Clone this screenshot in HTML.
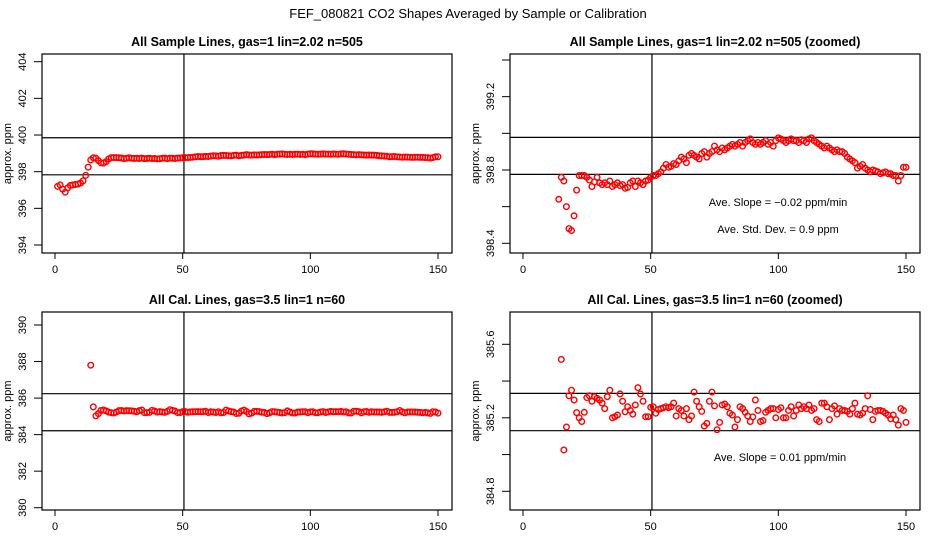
<!DOCTYPE html>
<html><head><meta charset="utf-8">
<style>
html,body{margin:0;padding:0;background:#fff;}
svg{display:block;font-family:"Liberation Sans",sans-serif;}
</style></head>
<body>
<svg id="chart" width="936" height="540" viewBox="0 0 936 540" xmlns="http://www.w3.org/2000/svg">
<text x="468" y="18" text-anchor="middle" font-size="13">FEF_080821  CO2 Shapes Averaged by Sample or Calibration</text>
</svg>
<script>
// x positions 1..150
const sampleValues = [397.20,397.28,397.05,396.88,397.12,397.25,397.28,397.30,397.32,397.38,397.50,397.80,398.25,
398.64,398.76,398.74,398.60,398.48,398.47,398.55,398.69,398.77,398.77,398.77,398.76,398.745,398.71,398.735,398.76,
398.73,398.72,398.73,398.72,398.74,398.71,398.72,398.73,398.715,398.72,398.70,398.705,398.73,398.74,398.71,398.74,398.73,398.72,398.74,398.745,
398.76,398.77,398.77,398.78,398.79,398.81,398.83,398.815,398.82,398.835,398.83,398.85,398.87,398.86,398.84,398.88,398.89,398.88,398.87,398.86,
398.89,398.90,398.87,398.89,398.90,398.93,398.91,398.90,398.92,398.91,398.92,398.93,398.94,398.93,398.94,398.95,398.93,398.95,398.96,398.97,
398.95,398.94,398.95,398.94,398.95,398.96,398.94,398.95,398.93,398.96,398.975,398.97,398.96,398.95,398.96,398.97,398.96,398.96,398.95,398.965,
398.96,398.95,398.97,398.975,398.96,398.95,398.94,398.93,398.92,398.93,398.92,398.91,398.90,398.91,398.90,398.90,398.89,398.87,398.86,398.85,
398.84,398.81,398.82,398.83,398.81,398.80,398.79,398.80,398.795,398.79,398.78,398.785,398.79,398.78,398.78,398.77,398.77,398.74,398.77,398.815,398.815];
const calValues = [null,null,null,null,null,null,null,null,null,null,null,null,null,387.8,
385.518,385.025,385.15,385.32,385.35,385.297,385.228,385.2,385.18,385.23,385.31,385.32,385.29,385.315,385.306,385.297,385.28,385.25,385.315,385.35,385.2,385.206,385.215,385.33,385.29,385.233,385.26,385.24,385.22,385.27,385.364,385.33,385.29,385.206,385.206,385.257,
385.26,385.225,385.245,385.25,385.255,385.26,385.255,385.26,385.28,385.21,385.25,385.24,385.21,385.25,385.19,385.21,385.34,385.29,385.26,385.235,
385.155,385.17,385.29,385.34,385.265,385.135,385.175,385.27,385.275,385.26,385.225,385.215,385.15,385.19,385.26,385.25,385.23,385.21,385.18,385.205,
385.297,385.24,385.18,385.185,385.23,385.24,385.25,385.25,385.2,385.245,385.255,385.2,385.2,385.24,385.26,385.21,385.24,385.27,385.25,385.26,
385.25,385.27,385.24,385.25,385.19,385.18,385.28,385.28,385.26,385.19,385.25,385.265,385.22,385.25,385.24,385.24,385.235,385.22,385.25,385.28,
385.22,385.215,385.225,385.25,385.32,385.245,385.19,385.235,385.24,385.24,385.235,385.225,385.215,385.195,385.215,385.19,385.16,385.25,385.24,385.175];
const xTicks = [0,50,100,150];
const yTicksTL = [394,396,398,400,402,404];
const yTicksTR = [398.4,398.6,398.8,399.0,399.2,399.4];
const yLabelsTR = ["398.4","","398.8","","399.2",""];
const yTicksBL = [380,382,384,386,388,390];
const yTicksBR = [384.8,385.0,385.2,385.4,385.6];
const yLabelsBR = ["384.8","","385.2","","385.6"];
const hLinesSample = [397.83,399.85];
const hLinesSampleZoom = [398.776,398.978];
const hLinesCal = [384.21,386.24];
const hLinesCalZoom = [385.13,385.333];
const vLineX = [50.5];

const NS="http://www.w3.org/2000/svg";
const svg=document.getElementById('chart');
function mk(tag,attrs,parent){const e=document.createElementNS(NS,tag);for(const k in attrs)e.setAttribute(k,attrs[k]);(parent||svg).appendChild(e);return e;}

function panel(cfg){
  const g=mk('g',{});
  
  
  const L=cfg.left,R=cfg.left+410,T=cfg.top,B=cfg.bottom;
  const x0px=cfg.left+13, xscale=383/150;
  const sx=v=>x0px+v*xscale;
  const sy=v=>cfg.y0px-(v-cfg.y0)*cfg.yscale;
  const clipId='clip-'+cfg.name;
  const cp=mk('clipPath',{id:clipId},g);mk('rect',{x:L,y:T,width:R-L,height:B-T},cp);
  const t=mk('text',{x:(L+R)/2,y:T-8,'text-anchor':'middle','font-size':12.5,'font-weight':'bold'},g);
  t.textContent=cfg.title;
  
  
  const box=mk('rect',{x:L,y:T,width:R-L,height:B-T,fill:'none',stroke:'#000','stroke-width':1.2},g);
  
  
  xTicks.forEach(v=>{
    mk('line',{x1:sx(v),x2:sx(v),y1:B,y2:B+6,stroke:'#000'},g);
    const tx=mk('text',{x:sx(v),y:B+20,'text-anchor':'middle','font-size':11},g);
    tx.textContent=v;
    
    
  });
  cfg.yTicks.forEach((v,i)=>{
    const y=sy(v);
    mk('line',{x1:L-8,x2:L,y1:y,y2:y,stroke:'#000'},g);
    const lab=cfg.yLabels?cfg.yLabels[i]:String(v);
    if(lab){
      const tx=mk('text',{x:L-19,y:y,'text-anchor':'middle','font-size':11,transform:`rotate(-90 ${L-19} ${y})`,'dominant-baseline':'central'},g);
      tx.textContent=lab;
      
      
    }
  });
  const yl=mk('text',{x:L-34,y:(T+B)/2,'text-anchor':'middle','font-size':11,transform:`rotate(-90 ${L-34} ${(T+B)/2})`,'dominant-baseline':'central'},g);
  yl.textContent='approx. ppm';
  
  
  cfg.hLines.forEach(v=>{
    const l=mk('line',{x1:L,x2:R,y1:sy(v),y2:sy(v),stroke:'#000','stroke-width':1.2},g);
    
    
  });
  vLineX.forEach(v=>{
    const l=mk('line',{x1:sx(v),x2:sx(v),y1:T,y2:B,stroke:'#000','stroke-width':1.2},g);
    
    
  });
  const pg=mk('g',{'clip-path':`url(#${clipId})`},g);
  cfg.values.forEach((v,i)=>{
    if(v==null)return;
    const c=mk('circle',{cx:sx(i+1),cy:sy(v),r:2.8,fill:'none',stroke:'#f00','stroke-width':1.4},pg);
    
    
  });
  (cfg.notes||[]).forEach(n=>{
    const tx=mk('text',{x:n[0],y:n[1],'text-anchor':'middle','font-size':11},g);
    tx.textContent=n[2];
    
    
  });
}
panel({name:'panel-sample',left:42,top:54,bottom:253,values:sampleValues,yTicks:yTicksTL,y0:394,y0px:245,yscale:18.33,hLines:hLinesSample,title:'All Sample Lines, gas=1 lin=2.02 n=505'});
panel({name:'panel-sample-zoomed',left:510,top:54,bottom:253,values:sampleValues,yTicks:yTicksTR,yLabels:yLabelsTR,y0:398.4,y0px:243.3,yscale:183.3,hLines:hLinesSampleZoom,title:'All Sample Lines, gas=1 lin=2.02 n=505 (zoomed)',
  notes:[[778,206,'Ave. Slope =  \u22120.02  ppm/min'],[778,233,'Ave. Std. Dev. =  0.9  ppm']]});
panel({name:'panel-cal',left:42,top:312,bottom:510,values:calValues,yTicks:yTicksBL,y0:380,y0px:507.7,yscale:18.27,hLines:hLinesCal,title:'All Cal. Lines, gas=3.5 lin=1 n=60'});
panel({name:'panel-cal-zoomed',left:510,top:312,bottom:510,values:calValues,yTicks:yTicksBR,yLabels:yLabelsBR,y0:384.8,y0px:491.3,yscale:183.75,hLines:hLinesCalZoom,title:'All Cal. Lines, gas=3.5 lin=1 n=60 (zoomed)',
  notes:[[780,461,'Ave. Slope =  0.01  ppm/min']]});
</script>
</body></html>
